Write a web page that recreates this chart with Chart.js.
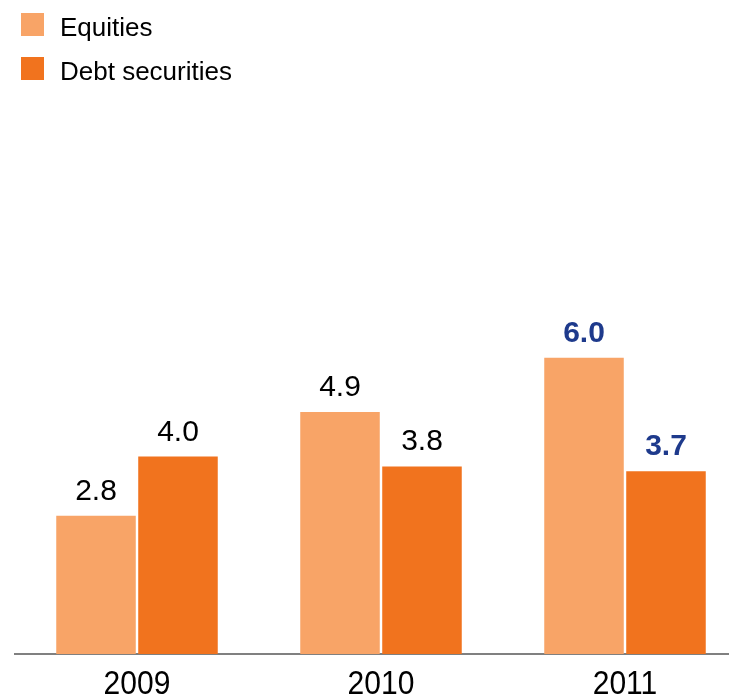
<!DOCTYPE html>
<html>
<head>
<meta charset="utf-8">
<script src="https://cdn.jsdelivr.net/npm/chart.js@4.4.0/dist/chart.umd.min.js"></script>
<style>
  html, body { margin: 0; padding: 0; background: #fff; overflow: hidden; }
  #wrap { position: absolute; left: 0; top: 0; width: 750px; height: 698px; }
</style>
</head>
<body>
<div id="wrap"><canvas id="chart"></canvas></div>
<script>
// === Data ===
const years = ["2009", "2010", "2011"];
const equities = [2.8, 4.9, 6.0];
const debtSecurities = [4.0, 3.8, 3.7];
const seriesNames = ["Equities", "Debt securities"];
const highlightYear = "2011";

const colors = ["#F8A467", "#F1731E"];
const blue = "#1E3A8C";

// legend drawn top-left, one item per row
const stackedLegend = {
  id: "stackedLegend",
  afterDraw(chart) {
    const ctx = chart.ctx;
    ctx.save();
    chart.data.datasets.forEach((ds, i) => {
      const top = 13 + i * 44;
      ctx.fillStyle = ds.backgroundColor;
      ctx.fillRect(21, top, 23, 23);
      ctx.fillStyle = "#000";
      ctx.font = "26px 'Liberation Sans', Arial, sans-serif";
      ctx.textBaseline = "alphabetic";
      ctx.textAlign = "left";
      ctx.fillText(ds.label, 60, top + 23);
    });
    ctx.restore();
  },
};

// value labels above bars
const valueLabels = {
  id: "valueLabels",
  afterDatasetsDraw(chart) {
    const ctx = chart.ctx;
    ctx.save();
    ctx.textAlign = "center";
    ctx.textBaseline = "alphabetic";
    chart.data.datasets.forEach((ds, di) => {
      chart.getDatasetMeta(di).data.forEach((bar, i) => {
        const hot = chart.data.labels[i] === highlightYear;
        ctx.fillStyle = hot ? blue : "#000";
        ctx.font = (hot ? "bold " : "") + "30px 'Liberation Sans', Arial, sans-serif";
        ctx.fillText(ds.data[i].toFixed(1), bar.x, bar.y - 16);
      });
    });
    ctx.restore();
  },
};

// slightly condensed year labels under the axis
const yearLabels = {
  id: "yearLabels",
  afterDraw(chart) {
    const ctx = chart.ctx;
    const xs = chart.scales.x;
    ctx.save();
    ctx.fillStyle = "#000";
    ctx.font = "33px 'Liberation Sans', Arial, sans-serif";
    ctx.textAlign = "center";
    ctx.textBaseline = "alphabetic";
    chart.data.labels.forEach((lab, i) => {
      const x = xs.getPixelForTick(i);
      ctx.save();
      ctx.translate(x, 694);
      ctx.scale(0.91, 1);
      ctx.fillText(lab, 0, 0);
      ctx.restore();
    });
    ctx.restore();
  },
};

const ctx = document.getElementById("chart").getContext("2d");
const chart = new Chart(ctx, {
  type: "bar",
  data: {
    labels: years,
    datasets: [
      { label: seriesNames[0], data: equities, backgroundColor: colors[0] },
      { label: seriesNames[1], data: debtSecurities, backgroundColor: colors[1] },
    ],
  },
  options: {
    responsive: true,
    maintainAspectRatio: false,
    animation: false,
    devicePixelRatio: 1,
    categoryPercentage: 0.672,
    barPercentage: 0.97,
    layout: { padding: { left: 15, right: 3, top: 259, bottom: 0 } },
    plugins: {
      legend: { display: false },
      tooltip: { enabled: false },
    },
    scales: {
      x: {
        grid: { display: false },
        border: { display: true, color: "#808080", width: 2 },
        ticks: { display: false },
        afterFit: (s) => { s.height = 44; },
      },
      y: {
        display: false,
        min: 0,
        max: 8,
      },
    },
  },
  plugins: [stackedLegend, valueLabels, yearLabels],
});
</script>
</body>
</html>
